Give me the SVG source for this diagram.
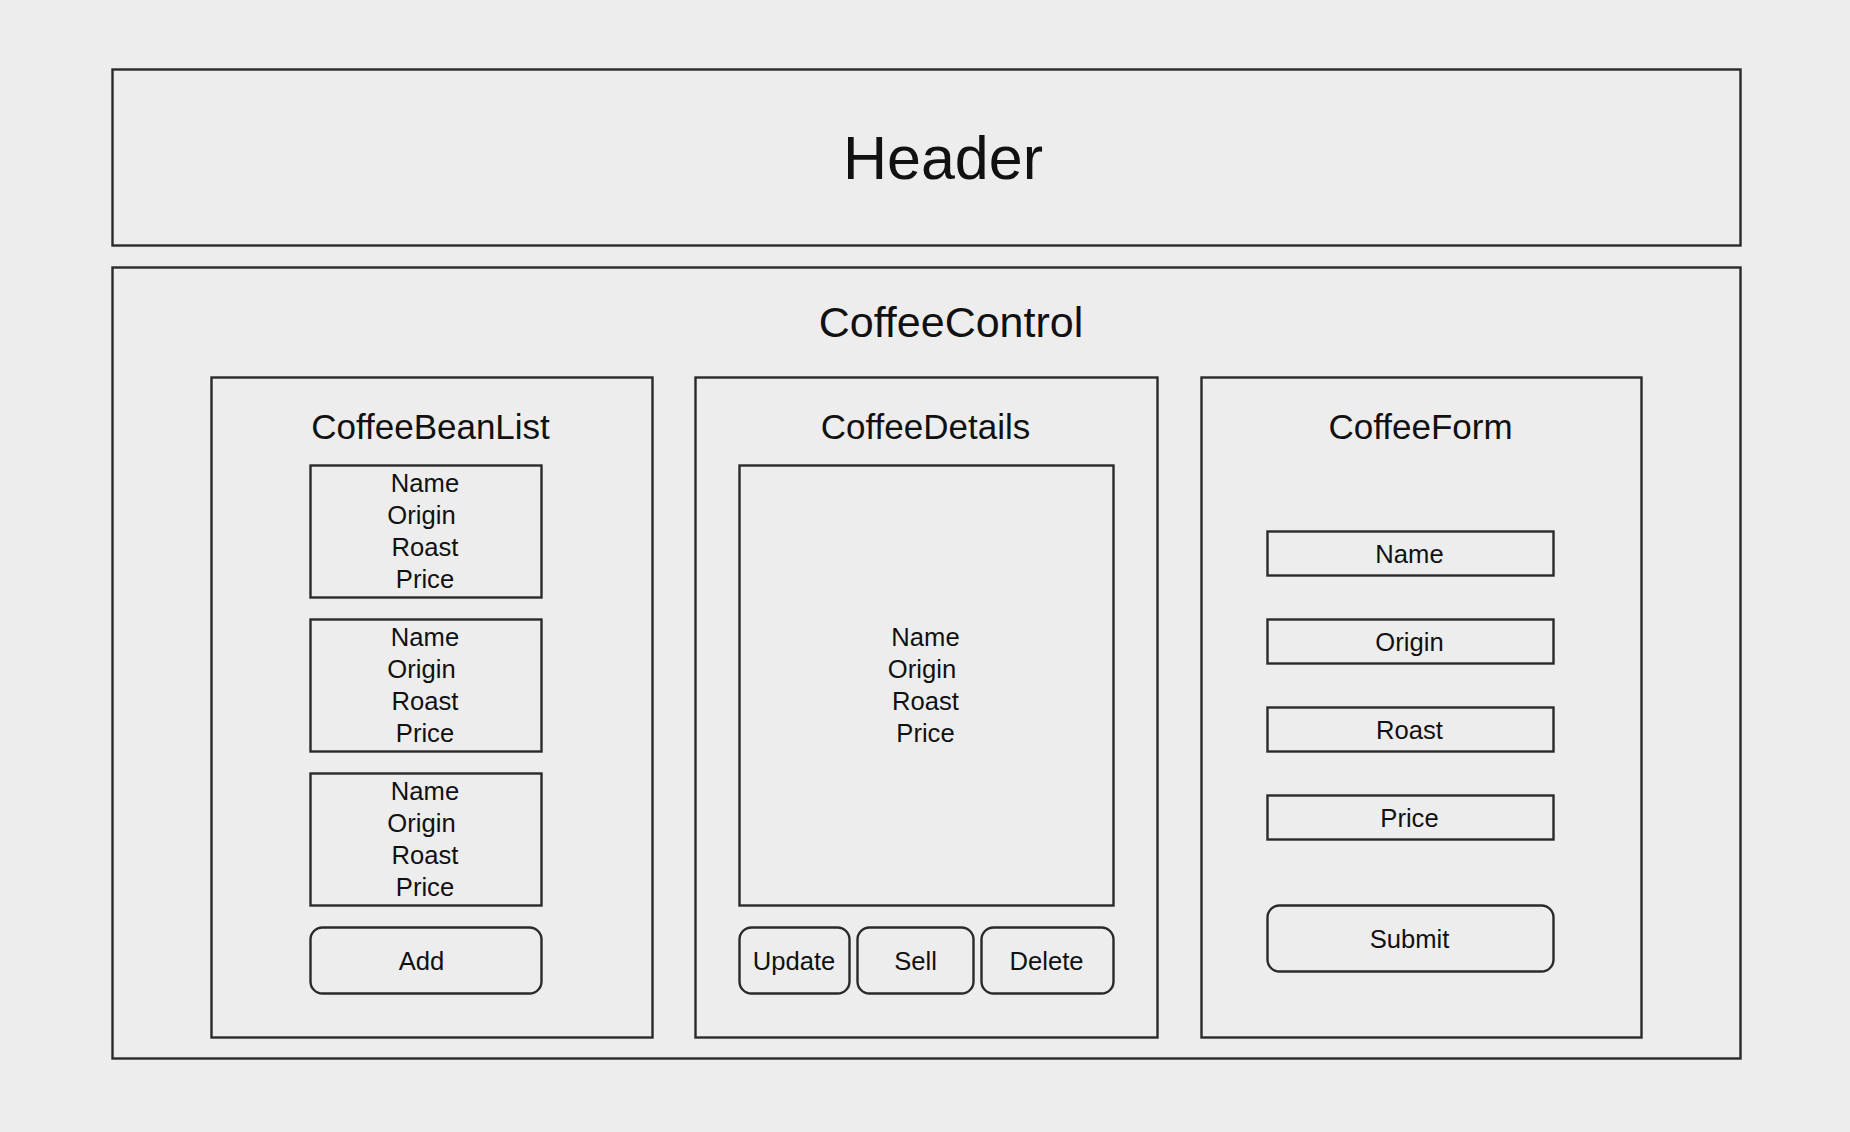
<svg xmlns="http://www.w3.org/2000/svg" width="1850" height="1132" viewBox="0 0 1850 1132">
<style>
.box{fill:#ededed;stroke:#2a2a2a;stroke-width:2.4}
.t{font-family:"Liberation Sans",Arial,Helvetica,sans-serif;fill:#111;text-anchor:middle}
.s{font-size:25.6px}
.ti{font-size:35px}
</style>
<rect x="0" y="0" width="1850" height="1132" fill="#ededed"/>
<g id="header">
<rect class="box" x="112.5" y="69.5" width="1628" height="176"/>
<text class="t" x="943" y="178.5" font-size="61">Header</text>
</g>
<g id="coffee-control">
<rect class="box" x="112.5" y="267.5" width="1628" height="791"/>
<text class="t" x="951" y="336.5" font-size="43">CoffeeControl</text>
</g>
<g id="coffee-bean-list">
<rect class="box" x="211.5" y="377.5" width="441" height="660"/>
<text class="t ti" x="430.5" y="439">CoffeeBeanList</text>
</g>
<g id="bean-item-1">
<rect class="box" x="310.5" y="465.5" width="231" height="132"/>
<text class="t s"><tspan x="425" y="492">Name</tspan><tspan x="421.5" y="523.5">Origin</tspan><tspan x="425" y="556">Roast</tspan><tspan x="425" y="588">Price</tspan></text>
</g>
<g id="bean-item-2">
<rect class="box" x="310.5" y="619.5" width="231" height="132"/>
<text class="t s"><tspan x="425" y="646">Name</tspan><tspan x="421.5" y="677.5">Origin</tspan><tspan x="425" y="710">Roast</tspan><tspan x="425" y="742">Price</tspan></text>
</g>
<g id="bean-item-3">
<rect class="box" x="310.5" y="773.5" width="231" height="132"/>
<text class="t s"><tspan x="425" y="800">Name</tspan><tspan x="421.5" y="831.5">Origin</tspan><tspan x="425" y="864">Roast</tspan><tspan x="425" y="896">Price</tspan></text>
</g>
<g id="add-button">
<rect class="box" x="310.5" y="927.5" width="231" height="66" rx="12"/>
<text class="t s" x="421.5" y="970">Add</text>
</g>
<g id="coffee-details">
<rect class="box" x="695.5" y="377.5" width="462" height="660"/>
<text class="t ti" x="925.5" y="439">CoffeeDetails</text>
</g>
<g id="details-box">
<rect class="box" x="739.5" y="465.5" width="374" height="440"/>
<text class="t s"><tspan x="925.5" y="646">Name</tspan><tspan x="922" y="677.5">Origin</tspan><tspan x="925.5" y="710">Roast</tspan><tspan x="925.5" y="742">Price</tspan></text>
</g>
<g id="update-button">
<rect class="box" x="739.5" y="927.5" width="110" height="66" rx="12"/>
<text class="t s" x="794" y="970">Update</text>
</g>
<g id="sell-button">
<rect class="box" x="857.5" y="927.5" width="116" height="66" rx="12"/>
<text class="t s" x="915.5" y="970">Sell</text>
</g>
<g id="delete-button">
<rect class="box" x="981.5" y="927.5" width="132" height="66" rx="12"/>
<text class="t s" x="1046.5" y="970">Delete</text>
</g>
<g id="coffee-form">
<rect class="box" x="1201.5" y="377.5" width="440" height="660"/>
<text class="t ti" x="1420.5" y="439">CoffeeForm</text>
</g>
<g id="form-name">
<rect class="box" x="1267.5" y="531.5" width="286" height="44"/>
<text class="t s" x="1409.5" y="563">Name</text>
</g>
<g id="form-origin">
<rect class="box" x="1267.5" y="619.5" width="286" height="44"/>
<text class="t s" x="1409.5" y="651">Origin</text>
</g>
<g id="form-roast">
<rect class="box" x="1267.5" y="707.5" width="286" height="44"/>
<text class="t s" x="1409.5" y="739">Roast</text>
</g>
<g id="form-price">
<rect class="box" x="1267.5" y="795.5" width="286" height="44"/>
<text class="t s" x="1409.5" y="827">Price</text>
</g>
<g id="submit-button">
<rect class="box" x="1267.5" y="905.5" width="286" height="66" rx="12"/>
<text class="t s" x="1409.5" y="948">Submit</text>
</g>
<g id="connectors"></g>
</svg>
